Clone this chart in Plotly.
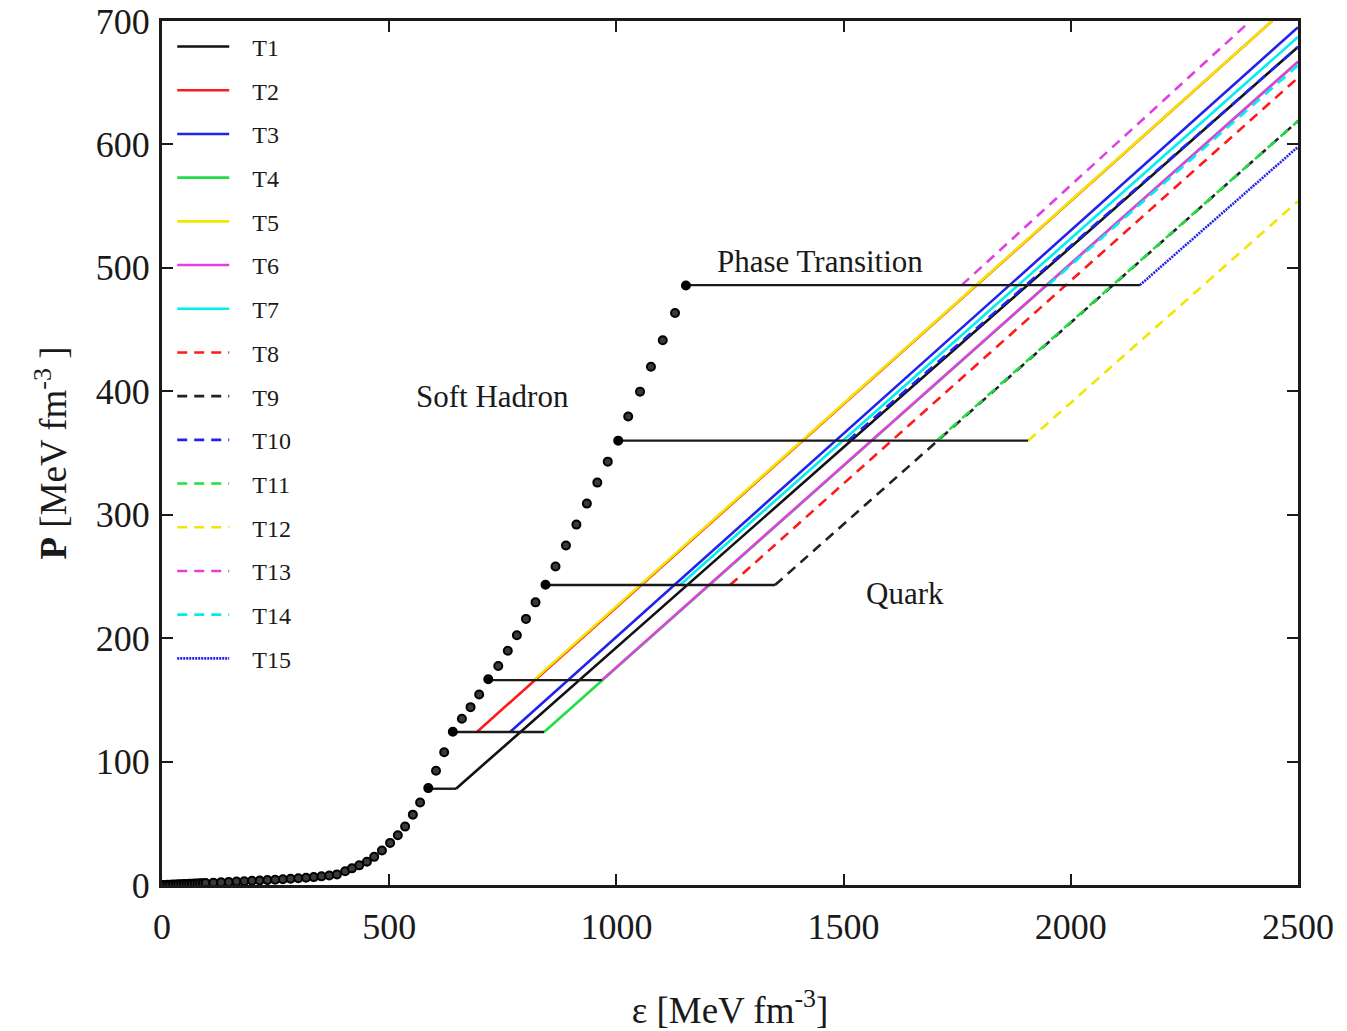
import plotly.graph_objects as go

# Soft hadron EOS (energy density, pressure) sampled points
hadron_eps = [0, 6, 12, 18, 24, 30, 36, 42, 48, 54, 60, 66, 72, 78, 84, 90, 96,
              113, 130, 147, 164, 181, 198, 215, 232, 249, 266, 283, 300, 317, 334, 351, 368,
              385, 403, 418, 434, 451, 467, 484, 502, 519, 535, 552, 568, 586, 603, 621, 640,
              660, 679, 698, 718, 740, 761, 781, 801, 822, 844, 866, 889, 912, 935, 958, 981,
              1004, 1026, 1052, 1076, 1102, 1129, 1153]
hadron_p = [0.0, 0.1, 0.2, 0.3, 0.4, 0.5, 0.6, 0.7, 0.8, 0.9, 1.0, 1.1, 1.2, 1.3, 1.4, 1.5, 1.6,
            1.9, 2.2, 2.5, 2.8, 3.1, 3.4, 3.7, 4.0, 4.3, 4.7, 5.1, 5.5, 5.9, 6.4, 7.0, 7.7,
            8.6, 11.1, 13.5, 15.9, 18.8, 22.8, 28.0, 34.1, 40.3, 47.3, 57.0, 66.9, 78.5, 92.5, 107.5, 124.2,
            134.7, 144.1, 154.3, 166.7, 177.4, 189.8, 202.4, 215.6, 229.0, 243.3, 258.1, 275, 292, 309, 326, 343,
            360, 379.6, 399.7, 419.9, 441.4, 463.4, 485.7]

# Phase transition plateaus: hadronic end point and largest quark onset
trans_p = [78, 124, 166, 243, 360, 486]
trans_eps_hadron = [586, 640, 718, 844, 1004, 1153]
trans_eps_quark = [647, 841, 968, 1349, 1906, 2152]

# Quark-phase branches for each parameter set (start -> end)
names = ["T1", "T2", "T3", "T4", "T5", "T6", "T7", "T8", "T9", "T10",
         "T11", "T12", "T13", "T14", "T15"]
q_eps_start = [647, 693, 766, 841, 818, 968, 1140, 1250, 1349, 1510, 1705, 1906, 1760, 1950, 2152]
q_p_start = [78, 124, 124, 124, 166, 166, 243, 243, 243, 360, 360, 360, 486, 486, 486]
q_eps_end = [2500, 2443, 2500, 2500, 2443, 2500, 2500, 2500, 2500, 2500, 2500, 2500, 2395, 2500, 2500]
q_p_end = [679, 700, 695, 667, 700, 667, 687, 654, 619, 679, 619, 554, 700, 664, 598]

colors = ["#111111", "#ff1a1a", "#2222ee", "#22dd44", "#f2e600", "#e040e0", "#00eeee",
          "#ff1a1a", "#222222", "#2222ee", "#22dd44", "#f2e600", "#e040e0", "#00eeee", "#2222ee"]
dashes = ["solid"] * 7 + ["10px,7px"] * 7 + ["2px,1px"]

FONT = "Liberation Serif, Times New Roman, serif"
PAD = "\u00a0\u00a0\u00a0"

fig = go.Figure()

for i, name in enumerate(names):
    fig.add_trace(go.Scatter(
        x=[q_eps_start[i], q_eps_end[i]],
        y=[q_p_start[i], q_p_end[i]],
        mode="lines",
        name=PAD + name,
        legendgroup=name,
        line=dict(color=colors[i], width=2.6, dash=dashes[i]),
    ))

# Mixed-phase plateaus
for k in range(len(trans_p)):
    fig.add_trace(go.Scatter(
        x=[trans_eps_hadron[k], trans_eps_quark[k]],
        y=[trans_p[k], trans_p[k]],
        mode="lines",
        line=dict(color="#1a1a1a", width=2.4),
        showlegend=False,
        hoverinfo="skip",
    ))

# Soft hadron EOS points
fig.add_trace(go.Scatter(
    x=hadron_eps, y=hadron_p, mode="markers",
    marker=dict(symbol="circle", size=8, color="#3a3a3a",
                line=dict(color="#000000", width=2)),
    showlegend=False,
))

# Transition onset points
fig.add_trace(go.Scatter(
    x=trans_eps_hadron, y=trans_p, mode="markers",
    marker=dict(symbol="circle", size=7, color="#000000"),
    showlegend=False,
))

annotations = [
    dict(x=1448, y=505, text="Phase Transition"),
    dict(x=728, y=396, text="Soft Hadron"),
    dict(x=1635, y=236, text="Quark"),
]
for a in annotations:
    a.update(xref="x", yref="y", showarrow=False,
             font=dict(family=FONT, size=31, color="#1a1a1a"))

axis_common = dict(
    showgrid=False, zeroline=False,
    showline=True, linecolor="#1a1a1a", linewidth=3, mirror="ticks",
    ticks="inside", ticklen=11, tickwidth=2, tickcolor="#1a1a1a",
    ticklabeloverflow="allow", automargin=False,
    tickfont=dict(family=FONT, size=36, color="#1a1a1a"),
)

fig.update_layout(
    width=1347, height=1031,
    margin=dict(l=162, r=49, t=21, b=146),
    paper_bgcolor="white", plot_bgcolor="white",
    font=dict(family=FONT, color="#1a1a1a"),
    xaxis=dict(range=[0, 2500], tickvals=[0, 500, 1000, 1500, 2000, 2500],
               ticklabelstandoff=8,
               title=dict(text="ε [MeV fm<sup>-3</sup>]", standoff=54,
                          font=dict(family=FONT, size=37)),
               **axis_common),
    yaxis=dict(range=[0, 700], tickvals=[0, 100, 200, 300, 400, 500, 600, 700],
               ticklabelstandoff=2,
               title=dict(text="<b>P</b> [MeV fm<sup>-3</sup> ]", standoff=18,
                          font=dict(family=FONT, size=37)),
               **axis_common),
    legend=dict(x=0.009, y=0.996, xanchor="left", yanchor="top",
                bgcolor="rgba(0,0,0,0)", borderwidth=0,
                font=dict(family=FONT, size=24, color="#1a1a1a"),
                tracegroupgap=9.5, itemwidth=52, traceorder="grouped"),
    annotations=annotations,
)

fig.write_html("out.html")
